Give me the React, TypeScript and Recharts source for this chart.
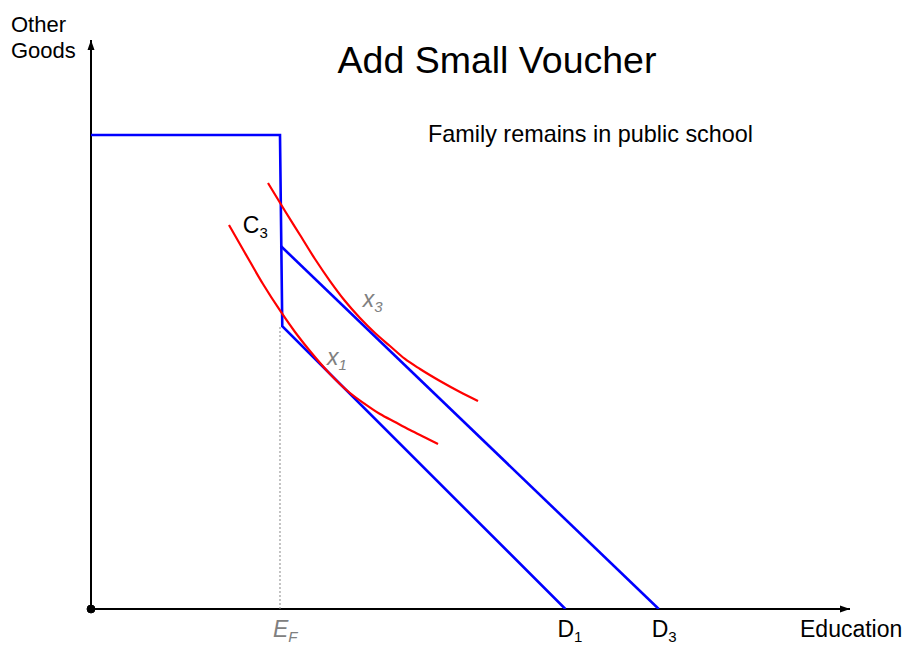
import React from "react";
import { ComposedChart, Line, XAxis, YAxis, ReferenceLine, ReferenceDot } from "recharts";

// Data (abstract units: education on x 0..100, other goods on y 0..100)
const kinkedBudget = [
  { x: 0, y: 83.3 },
  { x: 24.9, y: 83.3 },
  { x: 25.2, y: 49.7 },
  { x: 62.5, y: 0 },
];
const voucherBudget = [
  { x: 25.0, y: 63.8 },
  { x: 74.8, y: 0 },
];
const efGuide = [
  { x: 24.9, y: 0 },
  { x: 24.9, y: 49.7 },
];
const curveX3 = [
  { x: 23.32, y: 74.87 },
  { x: 25.56, y: 69.95 },
  { x: 27.54, y: 65.73 },
  { x: 29.51, y: 61.51 },
  { x: 31.49, y: 57.64 },
  { x: 33.47, y: 54.13 },
  { x: 35.44, y: 51.14 },
  { x: 37.42, y: 48.51 },
  { x: 39.39, y: 46.22 },
  { x: 41.37, y: 43.94 },
  { x: 43.35, y: 42.18 },
  { x: 45.98, y: 40.07 },
  { x: 48.62, y: 38.14 },
  { x: 50.99, y: 36.56 },
];
const curveX1 = [
  { x: 18.18, y: 67.49 },
  { x: 20.29, y: 62.57 },
  { x: 22.66, y: 57.12 },
  { x: 25.03, y: 52.2 },
  { x: 26.88, y: 48.68 },
  { x: 28.85, y: 45.34 },
  { x: 31.49, y: 41.3 },
  { x: 34.12, y: 37.96 },
  { x: 36.1, y: 36.03 },
  { x: 38.08, y: 34.27 },
  { x: 40.05, y: 32.86 },
  { x: 42.03, y: 31.46 },
  { x: 44.01, y: 30.14 },
  { x: 45.72, y: 29.0 },
];
const xDomain = [0, 100];
const yDomain = [0, 100];

const FONT = "'Liberation Sans', Arial, Helvetica, sans-serif";

const makeLabel = (main: string, sub: string, color: string, italic: boolean, dx: number, dy: number) =>
  (props: any) => {
    const { cx, cy } = props;
    return (
      <text
        x={cx + dx}
        y={cy + dy}
        fontFamily={FONT}
        fontSize={23}
        fill={color}
        fontStyle={italic ? "italic" : "normal"}
      >
        {main}
        <tspan fontSize={15} dy={5}>{sub}</tspan>
      </text>
    );
  };

export default function App() {
  return (
    <ComposedChart
      width={902}
      height={640}
      margin={{ top: 32, right: 60, bottom: 39, left: 83 }}
      style={{ background: "#fff" }}
    >
      <defs>
        <marker
          id="arrowHead"
          markerUnits="userSpaceOnUse"
          markerWidth={11}
          markerHeight={8}
          refX={10}
          refY={4}
          orient="auto"
        >
          <path d="M0,0.5 L10,4 L0,7.5 z" fill="#000" />
        </marker>
      </defs>
      <XAxis type="number" dataKey="x" domain={xDomain} hide allowDataOverflow />
      <YAxis type="number" dataKey="y" domain={yDomain} hide allowDataOverflow />

      <ReferenceLine
        segment={[{ x: 0, y: 0 }, { x: 100, y: 0 }]}
        stroke="#000"
        strokeWidth={2}
        markerEnd="url(#arrowHead)"
        ifOverflow="visible"
      />
      <ReferenceLine
        segment={[{ x: 0, y: 0 }, { x: 0, y: 100 }]}
        stroke="#000"
        strokeWidth={2}
        markerEnd="url(#arrowHead)"
        ifOverflow="visible"
      />

      <Line
        data={efGuide}
        dataKey="y"
        type="linear"
        stroke="#888"
        strokeWidth={1}
        strokeDasharray="2 2"
        dot={false}
        activeDot={false}
        isAnimationActive={false}
      />
      <Line
        data={kinkedBudget}
        dataKey="y"
        type="linear"
        stroke="#0000FF"
        strokeWidth={2.6}
        dot={false}
        activeDot={false}
        isAnimationActive={false}
      />
      <Line
        data={voucherBudget}
        dataKey="y"
        type="linear"
        stroke="#0000FF"
        strokeWidth={2.6}
        dot={false}
        activeDot={false}
        isAnimationActive={false}
      />
      <Line
        data={curveX1}
        dataKey="y"
        type="monotone"
        stroke="#FF0000"
        strokeWidth={2.2}
        dot={false}
        activeDot={false}
        isAnimationActive={false}
      />
      <Line
        data={curveX3}
        dataKey="y"
        type="monotone"
        stroke="#FF0000"
        strokeWidth={2.2}
        dot={false}
        activeDot={false}
        isAnimationActive={false}
      />

      <ReferenceDot x={0} y={0} r={4} fill="#000" stroke="#000" ifOverflow="visible" />

      <ReferenceDot x={24.9} y={0} ifOverflow="visible" shape={makeLabel("E", "F", "#808080", true, -7, 28)} />
      <ReferenceDot x={62.5} y={0} ifOverflow="visible" shape={makeLabel("D", "1", "#000", false, -8, 28)} />
      <ReferenceDot x={74.8} y={0} ifOverflow="visible" shape={makeLabel("D", "3", "#000", false, -7, 28)} />
      <ReferenceDot x={20.0} y={66.1} ifOverflow="visible" shape={makeLabel("C", "3", "#000", false, 0, 0)} />
      <ReferenceDot x={35.8} y={53.1} ifOverflow="visible" shape={makeLabel("x", "3", "#808080", true, 0, 0)} />
      <ReferenceDot x={31.1} y={42.9} ifOverflow="visible" shape={makeLabel("x", "1", "#808080", true, 0, 0)} />

      <text x={489} y={65} textAnchor="middle" fontFamily={FONT} fontSize={37.5} fill="#000">
        Add Small Voucher
      </text>
      <text x={420} y={134} fontFamily={FONT} fontSize={23.4} fill="#000">
        Family remains in public school
      </text>
      <text x={3} y={24} fontFamily={FONT} fontSize={22} fill="#000">
        Other
      </text>
      <text x={3} y={50} fontFamily={FONT} fontSize={22} fill="#000">
        Goods
      </text>
      <text x={792} y={629} fontFamily={FONT} fontSize={23} fill="#000">
        Education
      </text>
    </ComposedChart>
  );
}
